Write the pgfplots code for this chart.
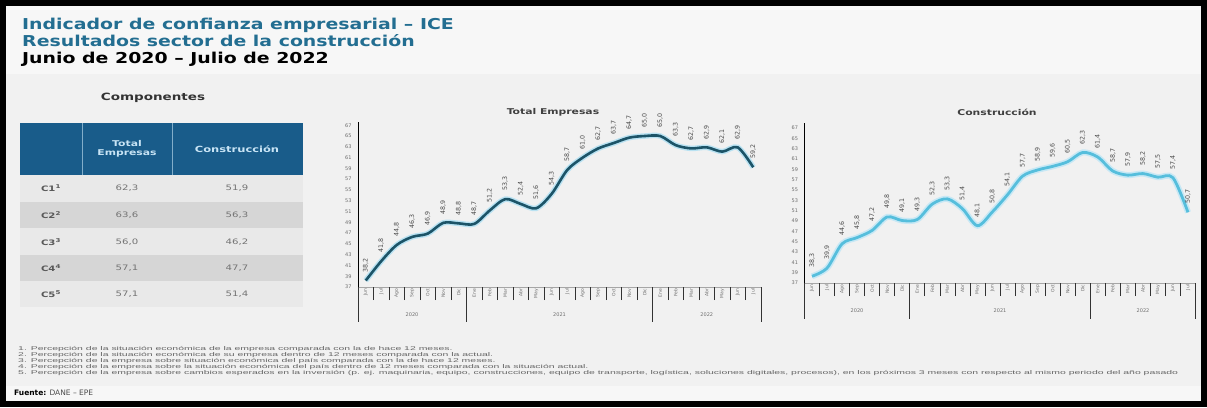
\documentclass[border=0pt]{standalone}
\usepackage{fontspec}
\setmainfont{DejaVu Sans}
\newfontfamily\semi[FakeStretch=1.35]{DejaVu Sans}
\newfontfamily\titfont[FakeStretch=1.26]{DejaVu Sans}
\newfontfamily\wide[FakeStretch=1.9]{Liberation Sans}
\usepackage{pgfplots}
\usepackage{pgfplotstable}
\pgfplotsset{compat=1.18}

\definecolor{titblue}{RGB}{35,110,145}
\definecolor{hdrblue}{RGB}{25,92,138}
\definecolor{hdrtext}{RGB}{200,228,245}
\definecolor{panel}{RGB}{241,241,241}
\definecolor{rowA}{RGB}{233,233,233}
\definecolor{rowB}{RGB}{214,214,214}
\definecolor{totline}{RGB}{28,84,104}
\definecolor{conline}{RGB}{86,190,220}
\definecolor{glow}{RGB}{185,226,242}
\definecolor{txtgray}{RGB}{110,110,110}

% ICE mensual, jun 2020 - jul 2022
\pgfplotstableread{
mes ice
0 38.2
1 41.8
2 44.8
3 46.3
4 46.9
5 48.9
6 48.8
7 48.7
8 51.2
9 53.3
10 52.4
11 51.6
12 54.3
13 58.7
14 61.0
15 62.7
16 63.7
17 64.7
18 65.0
19 65.0
20 63.3
21 62.7
22 62.9
23 62.1
24 62.9
25 59.2
}\total

\pgfplotstableread{
mes ice
0 38.3
1 39.9
2 44.6
3 45.8
4 47.2
5 49.8
6 49.1
7 49.3
8 52.3
9 53.3
10 51.4
11 48.1
12 50.8
13 54.1
14 57.7
15 58.9
16 59.6
17 60.5
18 62.3
19 61.4
20 58.7
21 57.9
22 58.2
23 57.5
24 57.4
25 50.7
}\constr

\pgfplotsset{
  ice axis/.style={
    scale only axis, anchor=south west, clip=false,
    xmin=-0.5, xmax=25.5, ymin=37,
    axis x line*=bottom, axis y line*=left,
    x axis line style={draw=black!35, line width=0.6pt},
    y axis line style={draw=black, line width=0.9pt},
    tick align=outside, major tick length=0pt,
    ytick={37,39,...,67},
    yticklabel style={font=\fontsize{5}{6}\selectfont, text=txtgray, xshift=-3pt},
    xtick={0,...,25},
    xticklabels={Jun,Jul,Ago,Sep,Oct,Nov,Dic,Ene,Feb,Mar,Abr,May,Jun,Jul,Ago,Sep,Oct,Nov,Dic,Ene,Feb,Mar,Abr,May,Jun,Jul},
    xticklabel style={rotate=90, anchor=east, font=\fontsize{4.5}{5}\selectfont, text=txtgray, inner sep=1.5pt},
    extra x ticks={-0.5,0.5,...,25.5},
    extra x tick labels={},
    extra x tick style={major tick length=13pt, tick style={draw=black!80, line width=0.7pt}},
    /pgf/number format/assume math mode=true,
  },
  ice labels/.style={
    nodes near coords={\pgfmathprintnumber[fixed,fixed zerofill,precision=1,use comma]{\pgfplotspointmeta}},
    every node near coord/.append style={rotate=90, anchor=west, inner xsep=7pt, inner ysep=0pt,
      font=\fontsize{6.3}{6.3}\selectfont, text=black!70},
  },
}

\begin{document}
\begin{tikzpicture}
\begin{scope}[x=1pt,y=-1pt]
\path[use as bounding box] (0,0) rectangle (1207,407);
\fill[black] (0,0) rectangle (1207,407);
\fill[white!97!black] (6,6) rectangle (1201,401);
\fill[panel] (6,74) rectangle (1201,386);

% titulos
\node[anchor=base west, inner sep=0, text=titblue, font=\titfont\fontsize{15}{18}\selectfont\bfseries] at (22,29) {Indicador de confianza empresarial – ICE};
\node[anchor=base west, inner sep=0, text=titblue, font=\titfont\fontsize{15}{18}\selectfont\bfseries] at (22,46) {Resultados sector de la construcción};
\node[anchor=base west, inner sep=0, text=black, font=\titfont\fontsize{15}{18}\selectfont\bfseries] at (22,63) {Junio de 2020 – Julio de 2022};

% tabla de componentes
\node[font=\semi\fontsize{10}{12}\selectfont\bfseries, text=black!80] at (153,98) {Componentes};
\fill[hdrblue] (20,123) rectangle (303,175);
\draw[hdrtext!60!hdrblue, line width=1pt] (82,123)--(82,175) (172,123)--(172,175);
\node[align=center, font=\semi\fontsize{8}{9.5}\selectfont\bfseries, text=hdrtext] at (127,149) {Total\\Empresas};
\node[font=\semi\fontsize{8.5}{10}\selectfont\bfseries, text=hdrtext] at (237,149) {Construcción};
\fill[rowA] (20,175) rectangle (303,202);
\fill[rowB] (20,202) rectangle (303,228);
\fill[rowA] (20,228) rectangle (303,255);
\fill[rowB] (20,255) rectangle (303,281);
\fill[rowA] (20,281) rectangle (303,307);
\foreach \c/\t/\k/\yy in {1/{62,3}/{51,9}/188, 2/{63,6}/{56,3}/215, 3/{56,0}/{46,2}/242, 4/{57,1}/{47,7}/268, 5/{57,1}/{51,4}/294}{
  \node[font=\semi\fontsize{7.5}{9}\selectfont\bfseries, text=black!65] at (51,\yy) {C\c\textsuperscript{\c}};
  \node[font=\semi\fontsize{7.5}{9}\selectfont, text=black!55] at (127,\yy) {\t};
  \node[font=\semi\fontsize{7.5}{9}\selectfont, text=black!55] at (237,\yy) {\k};
}

% titulos de graficos
\node[font=\semi\fontsize{8}{9}\selectfont\bfseries, text=black!75] at (553,112) {Total Empresas};
\node[font=\semi\fontsize{8}{9}\selectfont\bfseries, text=black!75] at (997,112) {Construcción};

% separadores de año
\draw[black!80, line width=0.7pt] (358,287)--(358,322) (466.5,287)--(466.5,322) (652.5,287)--(652.5,322) (761,287)--(761,322);
\draw[black!80, line width=0.7pt] (804.5,283)--(804.5,319) (909.8,283)--(909.8,319) (1090.3,283)--(1090.3,319) (1195.5,283)--(1195.5,319);
\foreach \xx/\yr in {412/2020, 559.5/2021, 706.8/2022}
  \node[font=\fontsize{5}{6}\selectfont, text=txtgray] at (\xx,315) {\yr};
\foreach \xx/\yr in {857/2020, 1000/2021, 1143/2022}
  \node[font=\fontsize{5}{6}\selectfont, text=txtgray] at (\xx,311) {\yr};

% notas
\begin{scope}[every node/.style={anchor=base west, inner sep=0, text=black!60, font=\wide\fontsize{5.5}{6}\selectfont}]
\node at (18,350) {1. Percepción de la situación económica de la empresa comparada con la de hace 12 meses.};
\node at (18,356) {2. Percepción de la situación económica de su empresa dentro de 12 meses comparada con la actual.};
\node at (18,362) {3. Percepción de la empresa sobre situación económica del país comparada con la de hace 12 meses.};
\node at (18,368) {4. Percepción de la empresa sobre la situación económica del país dentro de 12 meses comparada con la situación actual.};
\node at (18,374) {5. Percepción de la empresa sobre cambios esperados en la inversión (p. ej. maquinaria, equipo, construcciones, equipo de transporte, logística, soluciones digitales, procesos), en los próximos 3 meses con respecto al mismo periodo del año pasado};
\end{scope}
\node[anchor=base west, inner sep=0, font=\fontsize{7.5}{9}\selectfont] at (14,395) {\textbf{Fuente:} \textcolor{black!70}{DANE – EPE}};
\end{scope}

\begin{axis}[ice axis, at={(358pt,-287pt)}, width=403pt, height=165pt, ymax=67.6]
\addplot[glow, line width=5.5pt, smooth] table[x=mes, y=ice] {\total};
\addplot[totline, line width=2.6pt, smooth, ice labels] table[x=mes, y=ice] {\total};
\end{axis}

\begin{axis}[ice axis, at={(804.5pt,-283pt)}, width=391pt, height=160pt, ymax=68]
\addplot[glow!80!white, line width=6pt, smooth] table[x=mes, y=ice] {\constr};
\addplot[conline, line width=2.8pt, smooth, ice labels] table[x=mes, y=ice] {\constr};
\end{axis}
\end{tikzpicture}
\end{document}
